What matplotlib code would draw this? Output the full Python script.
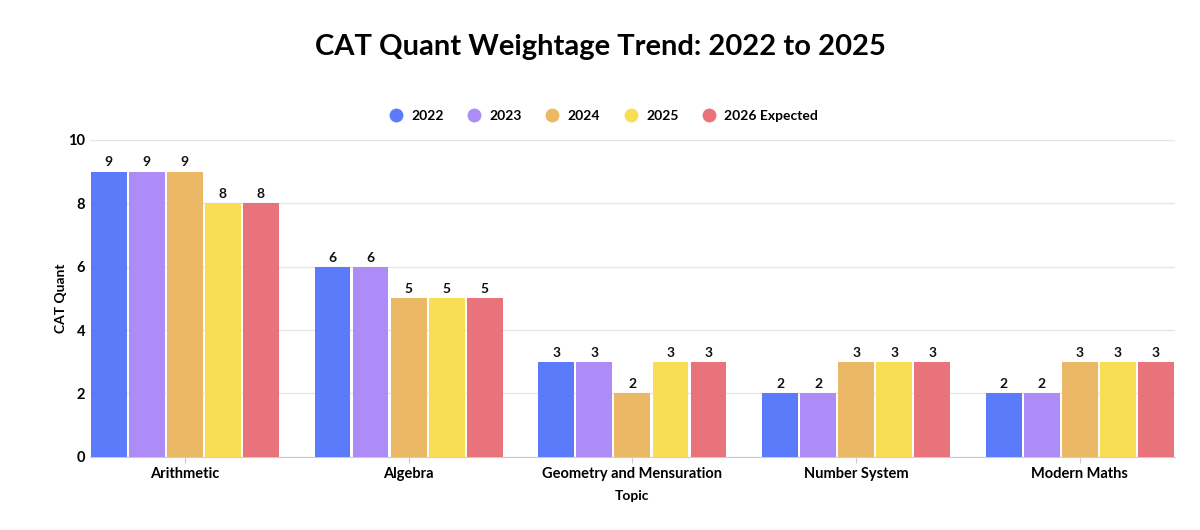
import matplotlib
matplotlib.use("Agg")
import matplotlib.pyplot as plt
import numpy as np
from matplotlib.lines import Line2D

plt.rcParams['font.family'] = ['Lato', 'DejaVu Sans']

topics = ["Arithmetic", "Algebra", "Geometry and Mensuration", "Number System", "Modern Maths"]
series_names = ["2022", "2023", "2024", "2025", "2026 Expected"]
v2022 = [9, 6, 3, 2, 2]
v2023 = [9, 6, 3, 2, 2]
v2024 = [9, 5, 2, 3, 3]
v2025 = [8, 5, 3, 3, 3]
v2026 = [8, 5, 3, 3, 3]
values = [v2022, v2023, v2024, v2025, v2026]
colors = ["#5B7BFA", "#AD8CF7", "#EBB866", "#F9DD55", "#E8737A"]

fig = plt.figure(figsize=(12, 5.3), dpi=100)
ax = fig.add_axes([0.075, 0.138, 0.904, 0.598])
x = np.arange(len(topics))
w = 0.16
step = 0.17
for i, (name, vals, c) in enumerate(zip(series_names, values, colors)):
    pos = x + (i - 2) * step
    bars = ax.bar(pos, vals, width=w, color=c, zorder=3)
    for b, v in zip(bars, vals):
        ax.text(b.get_x() + b.get_width() / 2, v + 0.1, str(v), ha='center', va='bottom',
                fontsize=10, fontweight='bold', color='#111111')

ax.set_xlim(-0.424, 4.424)
ax.set_ylim(0, 10)
ax.set_yticks([0, 2, 4, 6, 8, 10])
ax.set_xticks(x)
ax.set_xticklabels(topics, fontsize=10.5, fontweight='bold')
ax.tick_params(axis='y', labelsize=10.5, length=0)
for lab in ax.get_yticklabels():
    lab.set_fontweight('bold')
ax.tick_params(axis='x', length=4, color='#cccccc')
ax.grid(axis='y', color='#e6e6e6', linewidth=1, zorder=0)
for s in ['top', 'right', 'left']:
    ax.spines[s].set_visible(False)
ax.spines['bottom'].set_color('#cccccc')
ax.set_ylabel("CAT Quant", fontsize=10, fontweight='bold', labelpad=1)
ax.set_xlabel("Topic", fontsize=10, fontweight='bold', labelpad=6)

handles = [Line2D([0], [0], marker='o', color='w', markerfacecolor=c, markersize=11, label=n)
           for n, c in zip(series_names, colors)]
fig.legend(handles=handles, loc='center', bbox_to_anchor=(0.5, 0.781), ncol=5, frameon=False,
           prop={'size': 10, 'weight': 'bold'}, handletextpad=0.1, columnspacing=1.2)

fig.suptitle("CAT Quant Weightage Trend: 2022 to 2025", y=0.935, fontsize=21, fontweight='bold')
fig.savefig("out.png", dpi=100, facecolor='white')
